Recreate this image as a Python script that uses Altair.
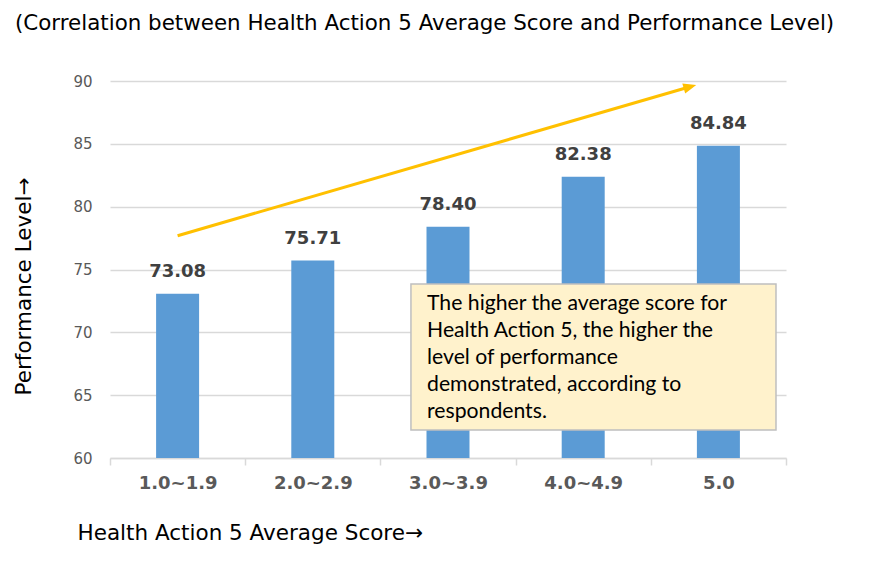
import altair as alt
import pandas as pd

# ---- data ----
categories = ["1.0~1.9", "2.0~2.9", "3.0~3.9", "4.0~4.9", "5.0"]
scores = [73.08, 75.71, 78.40, 82.38, 84.84]
y_ticks = [60, 65, 70, 75, 80, 85, 90]

title_text = "(Correlation between Health Action 5 Average Score and Performance Level)"
x_title = "Health Action 5 Average Score\u2192"
y_title = "Performance Level\u2192"
note_lines = [
    "The higher the average score for",
    "Health Action 5, the higher the",
    "level of performance",
    "demonstrated, according to",
    "respondents.",
]

# annotation geometry in data units (x on a 0..5 position scale, y on the value axis)
arrow_start = [0.5, 77.69]
arrow_end = [4.29, 89.54]
box_x = [2.226, 4.926]
box_y = [62.23, 73.85]
note_pos = [2.345, 71.78]

FONT = "DejaVu Sans"
W, H = 676, 377

bars_df = pd.DataFrame({"cat": categories, "score": scores})
arrow_df = pd.DataFrame({"x": [arrow_start[0]], "y": [arrow_start[1]],
                         "x2": [arrow_end[0]], "y2": [arrow_end[1]]})
head_df = pd.DataFrame({"x": [arrow_end[0]], "y": [arrow_end[1]]})
box_df = pd.DataFrame({"x": [box_x[0]], "x2": [box_x[1]], "y": [box_y[0]], "y2": [box_y[1]]})
note_df = pd.DataFrame({"x": [note_pos[0]], "y": [note_pos[1]], "t": ["\n".join(note_lines)]})

yscale = alt.Scale(domain=[60, 90], nice=False, zero=False)
xq = alt.Scale(domain=[0, 5], nice=False, zero=False)

x_band = alt.X(
    "cat:N", sort=categories,
    scale=alt.Scale(paddingInner=0, paddingOuter=0),
    axis=alt.Axis(
        title=x_title, labelAngle=0, labelFont=FONT, labelFontSize=18, labelFontWeight="bold",
        labelColor="#595959", labelPadding=9, tickBand="extent", tickSize=7, tickColor="#D9D9D9",
        tickWidth=1.5, domainColor="#D9D9D9", domainWidth=1.5,
        titleFont=FONT, titleFontSize=21.5, titleFontWeight="normal", titleColor="black",
        titleAlign="left", titleAnchor="start", titleBaseline="alphabetic", titleX=-33, titleY=81,
    ),
)

y_enc = alt.Y(
    "score:Q", scale=yscale,
    axis=alt.Axis(
        title=y_title, values=y_ticks, labelFont=FONT, labelFontSize=15, labelColor="#595959",
        labelPadding=18, ticks=False, domain=False, gridColor="#D9D9D9", gridWidth=1.3,
        titleFont=FONT, titleFontSize=21.5, titleFontWeight="normal", titleColor="black",
        titleAlign="center", titleBaseline="alphabetic", titleAngle=270, titleX=-80, titleY=205,
    ),
)

base = alt.Chart(bars_df).encode(x=x_band, y=y_enc)
bars = base.mark_bar(color="#5B9BD5", size=43, clip=True)
labels = base.mark_text(
    font=FONT, fontSize=18, fontWeight="bold", color="#404040", baseline="alphabetic", dy=-17
).encode(text=alt.Text("score:Q", format=".2f"))
bar_layer = alt.layer(bars, labels)

arrow = alt.Chart(arrow_df).mark_rule(color="#FFC000", strokeWidth=3).encode(
    x=alt.X("x:Q", scale=xq, axis=None), x2="x2", y=alt.Y("y:Q"), y2="y2"
)
head = alt.Chart(head_df).mark_point(
    shape="M1,0 L-1,-0.8 L-1,0.8 Z", filled=True, color="#FFC000", opacity=1, size=169, angle=344
).encode(x=alt.X("x:Q", scale=xq, axis=None), y=alt.Y("y:Q"))

box = alt.Chart(box_df).mark_rect(fill="#FFF2CC", stroke="#BFBFBF", strokeWidth=1.5).encode(
    x=alt.X("x:Q", scale=xq, axis=None), x2="x2", y=alt.Y("y:Q"), y2="y2"
)
note = alt.Chart(note_df).mark_text(
    font="Lato", fontSize=21.2, color="black", align="left", baseline="alphabetic",
    lineBreak="\n", lineHeight=27
).encode(x=alt.X("x:Q", scale=xq, axis=None), y=alt.Y("y:Q"), text="t:N")

chart = alt.layer(bar_layer, arrow, head, box, note).resolve_scale(x="independent").properties(
    width=W, height=H,
    title=alt.TitleParams(
        text=title_text, anchor="start", frame="group", dx=-95, font=FONT, fontSize=21.4,
        fontWeight="normal", color="black", offset=40,
    ),
    autosize=alt.AutoSizeParams(type="none"),
    padding={"left": 102, "top": 73, "right": 70, "bottom": 90},
).configure_view(stroke=None).configure_axisY(grid=True).configure_axisX(grid=False)

chart.save("out.html", embed_options={"renderer": "svg", "actions": False})
